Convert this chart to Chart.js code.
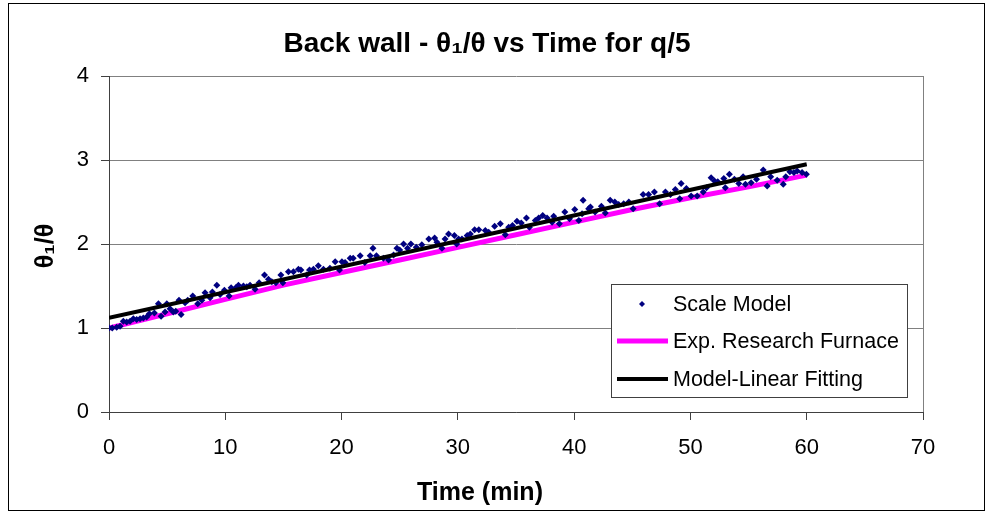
<!DOCTYPE html>
<html>
<head>
<meta charset="utf-8">
<script src="https://cdn.jsdelivr.net/npm/chart.js@4/dist/chart.umd.min.js"></script>
<style>
  html, body { margin: 0; padding: 0; background: #fff; }
  canvas { display: block; }
</style>
</head>
<body>
<canvas id="grafica" width="986" height="512"></canvas>
<script>
// Textos
const tituloTxt = "Back wall - θ₁/θ vs Time for q/5";
const ejeXTxt = "Time (min)";
const ejeYTxt = "θ₁/θ";
const etiquetas = ["Scale Model", "Exp. Research Furnace", "Model-Linear Fitting"];

// Ticks
const ticksX = [0, 10, 20, 30, 40, 50, 60, 70];
const ticksY = [0, 1, 2, 3, 4];

// Scale Model
const modeloX = [
  0.00, 0.28, 0.66, 0.95, 1.23, 1.52, 1.81, 2.09, 2.38, 2.67, 2.95, 3.24, 3.47, 3.90, 4.25, 4.48,
  4.82, 4.97, 5.25, 5.53, 5.74, 6.02, 6.20, 6.54, 6.77, 7.20, 7.63, 7.98, 8.26, 8.69, 8.89, 9.27,
  9.55, 9.92, 10.33, 10.50, 10.90, 11.13, 11.56, 11.85, 12.13, 12.56, 12.91, 13.37, 13.71, 14.00,
  14.35, 14.78, 14.95, 15.43, 15.86, 16.29, 16.50, 17.00, 17.24, 17.58, 18.00, 18.44, 19.00, 19.45,
  19.82, 20.03, 20.30, 20.74, 21.00, 21.60, 22.00, 22.46, 22.70, 23.00, 23.60, 24.04, 24.47, 24.76,
  25.00, 25.33, 25.67, 25.96, 26.42, 26.90, 27.50, 28.00, 28.20, 28.63, 28.90, 29.20, 29.70, 29.90,
  30.06, 30.35, 30.80, 31.07, 31.44, 31.80, 32.36, 32.65, 33.16, 33.65, 34.08, 34.37, 34.70, 35.08,
  35.45, 35.90, 36.15, 36.66, 36.95, 37.30, 37.67, 38.10, 38.24, 38.73, 39.20, 39.60, 40.05, 40.40,
  40.68, 40.77, 41.25, 41.40, 41.80, 42.34, 42.68, 43.10, 43.50, 43.83, 44.26, 44.70, 45.07, 45.93,
  46.40, 46.90, 47.35, 47.85, 48.28, 48.70, 49.08, 49.20, 49.65, 50.06, 50.58, 51.10, 51.38, 51.78,
  52.07, 52.35, 52.87, 53.00, 53.35, 53.78, 54.16, 54.53, 54.73, 55.22, 55.68, 56.26, 56.60, 56.90,
  57.46, 57.98, 58.20, 58.55, 58.90, 59.18, 59.60, 59.97
];
const modeloY = [
  1.00, 1.00, 1.01, 1.02, 1.08, 1.07, 1.08, 1.11, 1.10, 1.11, 1.12, 1.13, 1.17, 1.18, 1.29, 1.14,
  1.19, 1.29, 1.23, 1.19, 1.20, 1.33, 1.16, 1.30, 1.33, 1.38, 1.29, 1.33, 1.42, 1.36, 1.43, 1.51,
  1.40, 1.45, 1.38, 1.48, 1.48, 1.51, 1.50, 1.49, 1.51, 1.46, 1.54, 1.63, 1.58, 1.55,
  1.54, 1.63, 1.54, 1.67, 1.67, 1.70, 1.69, 1.63, 1.69, 1.70, 1.74, 1.70, 1.71, 1.79,
  1.69, 1.79, 1.78, 1.83, 1.83, 1.86, 1.78, 1.86, 1.95, 1.86, 1.83, 1.81, 1.87, 1.95,
  1.93, 2.00, 1.95, 2.00, 1.96, 1.99, 2.06, 2.07, 2.02, 1.95, 2.06, 2.12, 2.10, 2.00,
  2.06, 2.06, 2.10, 2.12, 2.17, 2.17, 2.16, 2.14, 2.21, 2.24, 2.11, 2.20, 2.22, 2.27,
  2.25, 2.31, 2.20, 2.28, 2.31, 2.34, 2.31, 2.26, 2.33, 2.24, 2.38, 2.30, 2.41, 2.28,
  2.36, 2.52, 2.42, 2.44, 2.38, 2.45, 2.37, 2.52, 2.50, 2.47, 2.48, 2.50, 2.42, 2.59,
  2.59, 2.62, 2.48, 2.62, 2.59, 2.65, 2.54, 2.72, 2.66, 2.57, 2.57, 2.62, 2.67, 2.79,
  2.75, 2.74, 2.78, 2.67, 2.83, 2.77, 2.72, 2.80, 2.71, 2.73, 2.77, 2.88, 2.69, 2.80,
  2.76, 2.71, 2.80, 2.86, 2.85, 2.87, 2.85, 2.83
];

// Exp. Research Furnace
const hornoX = [0, 5, 10, 15, 20, 25, 30, 35, 40, 45, 50, 55, 60];
const hornoY = [1.00, 1.17, 1.34, 1.51, 1.66, 1.81, 1.96, 2.11, 2.26, 2.41, 2.55, 2.68, 2.82];

// Model-Linear Fitting
const ajusteX = [0, 60];
const ajusteY = [1.12, 2.95];

const fuente = '"Liberation Sans", Arial, sans-serif';
const aPuntos = (xs, ys) => xs.map((x, i) => ({ x, y: ys[i] }));

// Titulos, borde exterior y leyenda dibujados a mano (estilo Excel)
const decorado = {
  id: "decorado",
  afterDraw(chart) {
    const ctx = chart.ctx;
    ctx.save();
    ctx.strokeStyle = "#000";
    ctx.lineWidth = 1;
    ctx.strokeRect(8.5, 3.5, 976, 507);

    ctx.fillStyle = "#000";
    ctx.textAlign = "center";
    ctx.textBaseline = "middle";
    ctx.font = "bold 28px " + fuente;
    ctx.fillText(tituloTxt, 487, 44);
    ctx.font = "bold 25px " + fuente;
    ctx.fillText(ejeXTxt, 480, 493);
    ctx.save();
    ctx.translate(46, 246);
    ctx.rotate(-Math.PI / 2);
    ctx.fillText(ejeYTxt, 0, 0);
    ctx.restore();

    // Leyenda
    ctx.fillStyle = "#fff";
    ctx.fillRect(611, 284, 296, 114);
    ctx.strokeStyle = "#404040";
    ctx.strokeRect(611.5, 284.5, 296, 113);
    const filas = [304, 341, 379];
    const ds = chart.data.datasets;
    ctx.font = "21.5px " + fuente;
    ctx.textAlign = "left";
    filas.forEach((y, i) => {
      const d = ds[i];
      if (i === 0) {
        ctx.fillStyle = d.backgroundColor;
        ctx.beginPath();
        ctx.moveTo(642, y - 3); ctx.lineTo(645, y); ctx.lineTo(642, y + 3); ctx.lineTo(639, y);
        ctx.closePath();
        ctx.fill();
      } else {
        ctx.strokeStyle = d.borderColor;
        ctx.lineWidth = d.borderWidth;
        ctx.beginPath();
        ctx.moveTo(617, y); ctx.lineTo(668, y);
        ctx.stroke();
      }
      ctx.fillStyle = "#000";
      ctx.fillText(d.label, 673, y + 1);
    });
    ctx.restore();
  }
};

new Chart(document.getElementById("grafica"), {
  type: "scatter",
  data: {
    datasets: [
      {
        label: etiquetas[0],
        data: aPuntos(modeloX, modeloY),
        backgroundColor: "#000080",
        borderColor: "#000080",
        pointStyle: "rectRot",
        pointRadius: 3.5,
        pointBorderWidth: 0,
        order: 2
      },
      {
        label: etiquetas[1],
        data: aPuntos(hornoX, hornoY),
        showLine: true,
        borderColor: "#ff00ff",
        backgroundColor: "#ff00ff",
        borderWidth: 5,
        pointRadius: 0,
        order: 3
      },
      {
        label: etiquetas[2],
        data: aPuntos(ajusteX, ajusteY),
        showLine: true,
        borderColor: "#000",
        backgroundColor: "#000",
        borderWidth: 4,
        pointRadius: 0,
        order: 1
      }
    ]
  },
  options: {
    responsive: false,
    animation: false,
    devicePixelRatio: 1,
    layout: { padding: { top: 76, right: 63, left: 0, bottom: 0 } },
    plugins: { legend: { display: false }, tooltip: { enabled: false }, title: { display: false } },
    scales: {
      x: {
        type: "linear",
        min: 0,
        max: 70,
        afterBuildTicks: s => { s.ticks = ticksX.map(v => ({ value: v })); },
        afterFit: s => { s.height = 100; },
        border: { color: "#404040", width: 1 },
        grid: {
          color: c => (c.tick && c.tick.value === 70 ? "#808080" : "rgba(0,0,0,0)"),
          tickColor: "#404040",
          tickLength: 8
        },
        ticks: { color: "#000", font: { family: fuente, size: 22 }, padding: 15, maxRotation: 0 }
      },
      y: {
        type: "linear",
        min: 0,
        max: 4,
        afterBuildTicks: s => { s.ticks = ticksY.map(v => ({ value: v })); },
        afterFit: s => { s.width = 109; },
        border: { color: "#404040", width: 1 },
        grid: { color: "#808080", tickColor: "#404040", tickLength: 8 },
        ticks: { color: "#000", font: { family: fuente, size: 22 }, padding: 12 }
      }
    }
  },
  plugins: [decorado]
});
</script>
</body>
</html>
